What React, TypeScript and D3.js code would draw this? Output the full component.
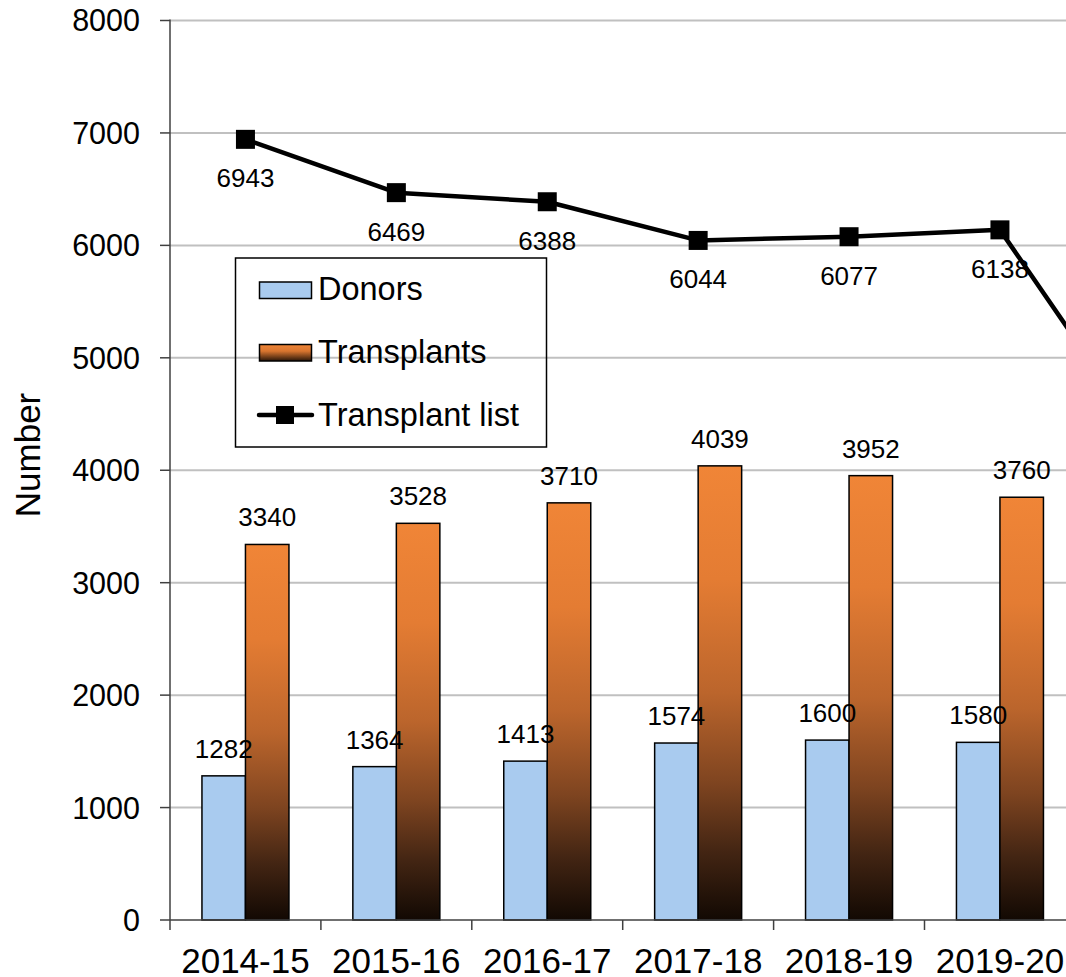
import React from "react";
import * as d3 from "d3";

const categories = ["2014-15", "2015-16", "2016-17", "2017-18", "2018-19", "2019-20", "2020-21"];
const donors = [1282, 1364, 1413, 1574, 1600, 1580];
const transplants = [3340, 3528, 3710, 4039, 3952, 3760];
const transplantList = [6943, 6469, 6388, 6044, 6077, 6138, 4190];
const yTicks = [0, 1000, 2000, 3000, 4000, 5000, 6000, 7000, 8000];
const seriesNames = ["Donors", "Transplants", "Transplant list"];

const W = 1066;
const H = 977;
const FONT = "'Liberation Sans', Arial, sans-serif";

export default function App() {
  const left = 170;
  const step = 150.9;
  const x = d3.scaleBand<string>().domain(categories).range([left, left + step * categories.length]).padding(0);
  const y = d3.scaleLinear().domain([0, 8000]).range([920, 20.5]);
  const groupW = 87;
  const sub = d3
    .scaleBand<string>()
    .domain([seriesNames[0], seriesNames[1]])
    .range([(x.bandwidth() - groupW) / 2, (x.bandwidth() + groupW) / 2]);

  const cx = (c: string) => (x(c) as number) + x.bandwidth() / 2;
  const line = d3
    .line<number>()
    .x((_, i) => cx(categories[i]))
    .y((v) => y(v));

  const axisColor = "#404040";
  const gridColor = "#c0c0c0";

  return (
    <svg
      width={W}
      height={H}
      style={{ position: "absolute", left: 0, top: 0, overflow: "hidden", background: "#fff" }}
      fontFamily={FONT}
    >
      <defs>
        <linearGradient id="tgrad" x1="0" y1="0" x2="0" y2="1">
          <stop offset="0" stopColor="#f08537" />
          <stop offset="0.25" stopColor="#e47c33" />
          <stop offset="0.5" stopColor="#bb652c" />
          <stop offset="0.7" stopColor="#7e4420" />
          <stop offset="0.85" stopColor="#432513" />
          <stop offset="1" stopColor="#120903" />
        </linearGradient>
        <linearGradient id="tgradLeg" x1="0" y1="0" x2="0" y2="1">
          <stop offset="0" stopColor="#f08537" />
          <stop offset="0.4" stopColor="#d8752f" />
          <stop offset="1" stopColor="#2a1608" />
        </linearGradient>
      </defs>

      {/* gridlines */}
      {yTicks.filter((t) => t > 0).map((t) => (
        <line key={t} x1={left} x2={W} y1={y(t)} y2={y(t)} stroke={gridColor} strokeWidth={2} />
      ))}

      {/* y axis */}
      <line x1={left} x2={left} y1={y(8000) - 1} y2={y(0)} stroke={axisColor} strokeWidth={1.5} />
      {yTicks.map((t) => (
        <g key={t}>
          <line x1={left - 10} x2={left} y1={y(t)} y2={y(t)} stroke={axisColor} strokeWidth={1.5} />
          <text x={140} y={y(t)} dy="0.36em" textAnchor="end" fontSize={30.5} fill="#000">
            {t}
          </text>
        </g>
      ))}
      <text
        transform={`translate(40,455) rotate(-90)`}
        textAnchor="middle"
        fontSize={35}
        fill="#000"
      >
        Number
      </text>

      {/* bars */}
      {donors.map((v, i) => {
        const c = categories[i];
        const bx = (x(c) as number) + (sub(seriesNames[0]) as number);
        return (
          <rect
            key={"d" + i}
            x={bx}
            y={y(v)}
            width={sub.bandwidth()}
            height={y(0) - y(v)}
            fill="#a9cbef"
            stroke="#000"
            strokeWidth={1.5}
          />
        );
      })}
      {transplants.map((v, i) => {
        const c = categories[i];
        const bx = (x(c) as number) + (sub(seriesNames[1]) as number);
        return (
          <rect
            key={"t" + i}
            x={bx}
            y={y(v)}
            width={sub.bandwidth()}
            height={y(0) - y(v)}
            fill="url(#tgrad)"
            stroke="#000"
            strokeWidth={1.5}
          />
        );
      })}

      {/* x axis */}
      <line x1={left} x2={W} y1={y(0)} y2={y(0)} stroke={axisColor} strokeWidth={1.5} />
      {categories.map((c) => (
        <line
          key={"tk" + c}
          x1={x(c) as number}
          x2={x(c) as number}
          y1={y(0)}
          y2={y(0) + 10}
          stroke={axisColor}
          strokeWidth={1.5}
        />
      ))}
      {categories.map((c) => (
        <text key={"xl" + c} x={cx(c)} y={973} textAnchor="middle" fontSize={35} fill="#000">
          {c}
        </text>
      ))}

      {/* bar labels */}
      {donors.map((v, i) => (
        <text
          key={"dl" + i}
          x={(x(categories[i]) as number) + (sub(seriesNames[0]) as number) + sub.bandwidth() / 2}
          y={y(v) - 18}
          textAnchor="middle"
          fontSize={26}
          fill="#000"
        >
          {v}
        </text>
      ))}
      {transplants.map((v, i) => (
        <text
          key={"tl" + i}
          x={(x(categories[i]) as number) + (sub(seriesNames[1]) as number) + sub.bandwidth() / 2}
          y={y(v) - 18}
          textAnchor="middle"
          fontSize={26}
          fill="#000"
        >
          {v}
        </text>
      ))}

      {/* line */}
      <path d={line(transplantList) || ""} fill="none" stroke="#000" strokeWidth={4.5} strokeLinejoin="round" />
      {transplantList.map((v, i) => (
        <rect key={"m" + i} x={cx(categories[i]) - 9.5} y={y(v) - 9.5} width={19} height={19} fill="#000" />
      ))}
      {transplantList.map((v, i) => (
        <text key={"ll" + i} x={cx(categories[i])} y={y(v) + 48} textAnchor="middle" fontSize={26} fill="#000">
          {v}
        </text>
      ))}

      {/* legend */}
      <g>
        <rect x={235.5} y={258} width={311} height={189} fill="none" stroke="#000" strokeWidth={1.5} />
        <rect x={259.5} y={282} width={52} height={16.5} fill="#a9cbef" stroke="#000" strokeWidth={1.5} />
        <text x={318} y={300} fontSize={32.5} fill="#000">{seriesNames[0]}</text>
        <rect x={259.5} y={344.5} width={52} height={16.5} fill="url(#tgradLeg)" stroke="#000" strokeWidth={1.5} />
        <text x={318} y={363} fontSize={32.5} fill="#000">{seriesNames[1]}</text>
        <line x1={259} x2={312} y1={415} y2={415} stroke="#000" strokeWidth={4.5} strokeLinecap="round" />
        <rect x={276} y={406} width={18} height={18} fill="#000" />
        <text x={318} y={425.5} fontSize={32.5} fill="#000">{seriesNames[2]}</text>
      </g>
    </svg>
  );
}
